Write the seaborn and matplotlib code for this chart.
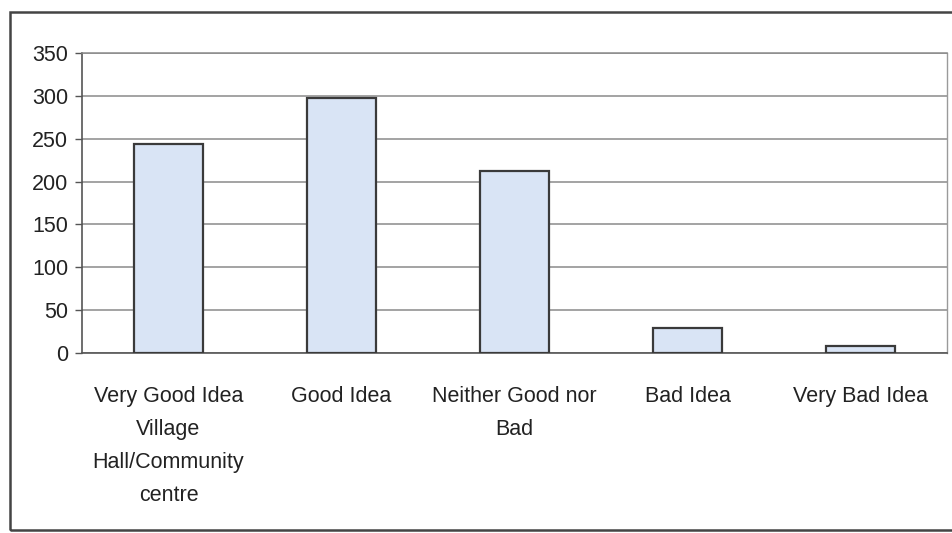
import matplotlib
matplotlib.use("Agg")
import matplotlib.pyplot as plt
import seaborn as sns
import pandas as pd
import numpy as np
from matplotlib.patches import Rectangle

categories = ["Very Good Idea\nVillage\nHall/Community\ncentre", "Good Idea",
              "Neither Good nor\nBad", "Bad Idea", "Very Bad Idea"]
values = [244, 297, 212, 29, 8]
y_ticks = [0, 50, 100, 150, 200, 250, 300, 350]

sns.set_style("white")
plt.rcParams['font.family'] = ['Liberation Sans', 'DejaVu Sans']

fig = plt.figure(figsize=(9.53, 5.33), dpi=100)
ax = fig.add_axes([82/953, 1-353/533, (947-82)/953, 300/533])

df = pd.DataFrame({"cat": categories, "val": values})
sns.barplot(data=df, x="cat", y="val", ax=ax, color="#d9e4f5", width=0.4,
            edgecolor="#3a3a3a", linewidth=1.6, saturation=1, zorder=3)

ax.set_ylim(0, 350)
ax.set_xlim(-0.5, 4.5)
ax.set_yticks(y_ticks)
ax.set_yticklabels([str(v) for v in y_ticks], fontsize=15.5, color="#222222")
ax.set_xlabel("")
ax.set_ylabel("")
ax.grid(axis="y", color="#8a8a8a", linewidth=1.1, zorder=0)
ax.set_axisbelow(True)

ax.set_xticks(range(len(categories)))
ax.set_xticklabels(categories, fontsize=15.5, color="#222222", linespacing=1.75,
                   va="top")
ax.tick_params(axis="x", which="major", length=0, pad=24)
ax.set_xticks(np.arange(-0.5, 4.6, 1.0), minor=True)
ax.tick_params(axis="x", which="minor", length=5, color="#555555", width=1, direction="out")
ax.tick_params(axis="y", length=5, color="#555555", width=1, direction="out", left=True, pad=5)

for s in ["left", "bottom"]:
    ax.spines[s].set_color("#555555")
    ax.spines[s].set_linewidth(1.2)
ax.spines["top"].set_color("#8a8a8a")
ax.spines["top"].set_linewidth(1.1)
ax.spines["right"].set_color("#9a9a9a")
ax.spines["right"].set_linewidth(1.0)

frame = Rectangle((10/953, 3/533), 1.2, 1-15/533, transform=fig.transFigure,
                  fill=False, edgecolor="#444444", linewidth=1.8, clip_on=False)
fig.patches.append(frame)

fig.savefig("out.png", dpi=100, facecolor="white")
